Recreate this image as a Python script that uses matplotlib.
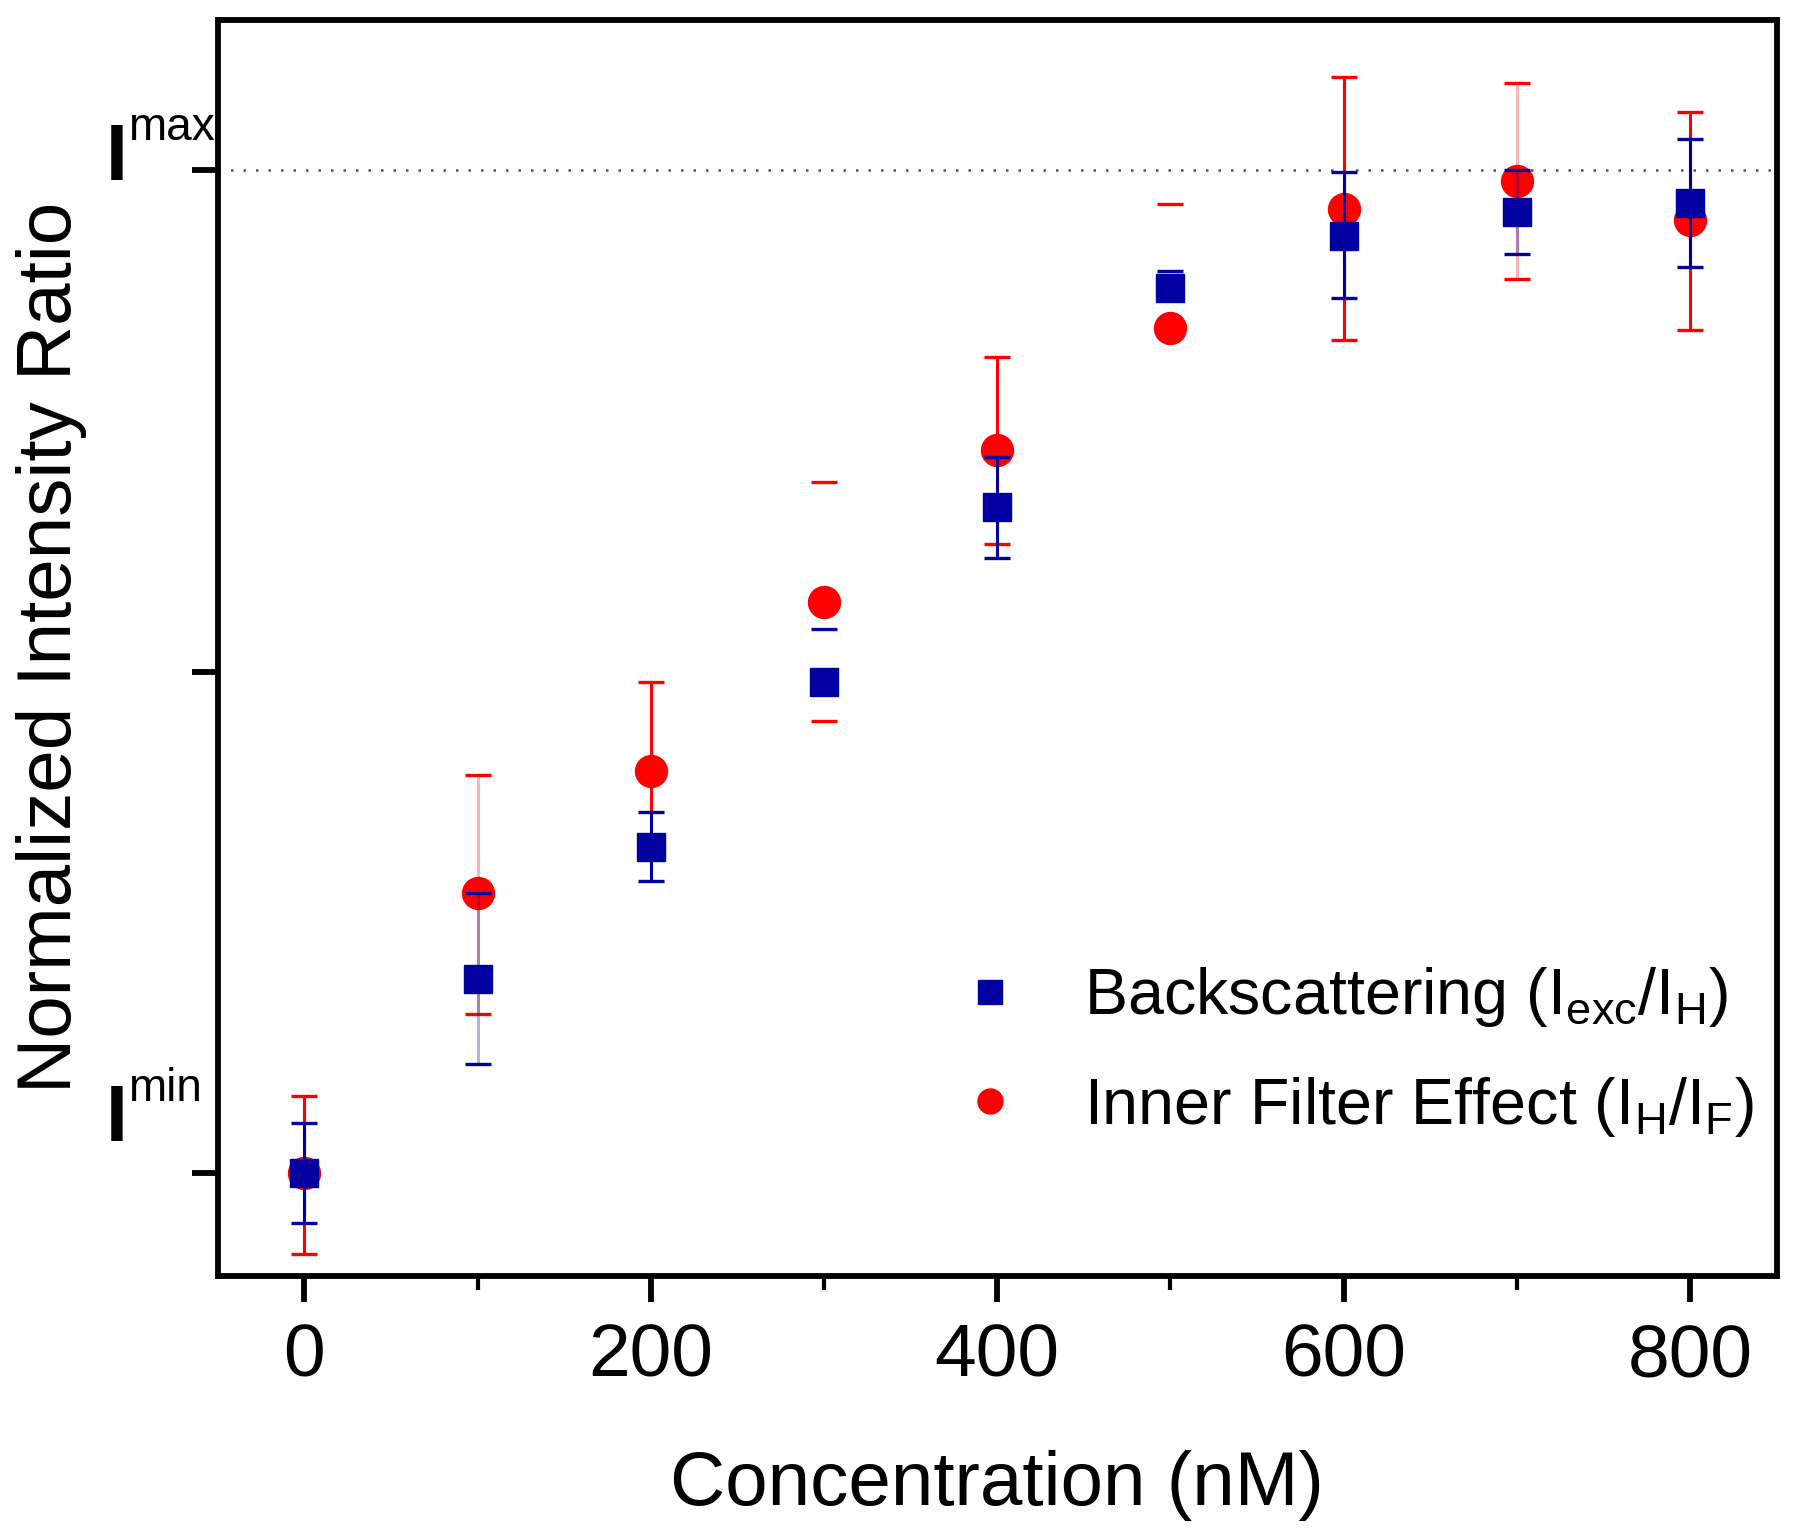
import numpy as np
import matplotlib.pyplot as plt
from matplotlib.colors import to_rgba
from matplotlib.transforms import ScaledTranslation

plt.rcParams['font.family'] = ['Liberation Sans', 'DejaVu Sans']
plt.rcParams['mathtext.fontset'] = 'custom'
plt.rcParams['mathtext.rm'] = 'Liberation Sans'
plt.rcParams['mathtext.it'] = 'Liberation Sans:italic'

# concentrations (nM)
conc = [0, 100, 200, 300, 400, 500, 600, 700, 800]

# backscattering ratio, normalized between Imin (0) and Imax (1)
back_vals = [0.0, 0.194, 0.325, 0.490, 0.664, 0.883, 0.935, 0.959, 0.967]
back_err_lo = [0.05, 0.085, 0.034, 0.0, 0.05, 0.0, 0.062, 0.042, 0.063]
back_err_hi = [0.05, 0.085, 0.035, 0.053, 0.05, 0.017, 0.063, 0.041, 0.064]

# inner filter effect ratio
ife_vals = [0.0, 0.279, 0.401, 0.570, 0.721, 0.843, 0.962, 0.989, 0.951]
ife_err_lo = [0.08, 0.12, 0.08, 0.119, 0.094, 0.0, 0.131, 0.097, 0.11]
ife_err_hi = [0.077, 0.118, 0.089, 0.119, 0.093, 0.123, 0.131, 0.098, 0.107]

ytick_pos = [0.0, 0.5, 1.0]
ytick_sup = ['min', '', 'max']

blue = '#0000a0'
red = '#ff0000'

fig = plt.figure(figsize=(18, 15.35), dpi=100)
ax = fig.add_axes([0.121, 0.169, 0.866, 0.818])

ax.axhline(1.0, color='#505060', linestyle=(0, (1, 4)), linewidth=1.8, zorder=1)

ife = ax.errorbar(conc, ife_vals, yerr=[ife_err_lo, ife_err_hi], fmt='o', color=red,
                  ms=23, ecolor=red, elinewidth=2.2, capsize=9.5, capthick=2.4, zorder=3)
back = ax.errorbar(conc, back_vals, yerr=[back_err_lo, back_err_hi], fmt='s', color=blue,
                   ms=20, ecolor=blue, elinewidth=2.2, capsize=9.5, capthick=2.4, zorder=4)

# some of the whiskers are faint or missing in the original figure
line_alpha = [1, 0.3, 1, 0, 1, 0, 1, 0.3, 1]
ife[2][0].set_color([to_rgba(red, a) for a in line_alpha])
back[2][0].set_color([to_rgba(blue, a) for a in line_alpha])

ax.set_xlim(-50, 850)
ax.set_ylim(-0.102, 1.15)
ax.set_xticks([0, 200, 400, 600, 800])
ax.set_xticks([100, 300, 500, 700], minor=True)
ax.set_yticks(ytick_pos)
ax.set_yticklabels([])

for s in ax.spines.values():
    s.set_linewidth(4.2)
ax.tick_params(axis='both', which='major', direction='out', length=19, width=4.2,
               labelsize=54)
ax.tick_params(axis='x', which='minor', direction='out', length=10, width=3)
ax.tick_params(axis='x', which='major', pad=15)

# I^max / I^min labels drawn as "I" plus a small superscript
ytrans = ax.get_yaxis_transform()
base_shift = [23, 0, -7]  # baseline offset from the tick (points)
for pos, sup, dy in zip(ytick_pos, ytick_sup, base_shift):
    if not sup:
        continue
    t_i = ytrans + ScaledTranslation(-81 / 72, dy / 72, fig.dpi_scale_trans)
    ax.text(0, pos, 'I', transform=t_i, fontsize=57, ha='left', va='baseline',
            fontweight='bold')
    t_s = ytrans + ScaledTranslation(-65 / 72, (dy + 29) / 72, fig.dpi_scale_trans)
    ax.text(0, pos, sup, transform=t_s, fontsize=33, ha='left', va='baseline')

ax.set_xlabel('Concentration (nM)', fontsize=55)
ax.xaxis.label.set_va('baseline')
ax.xaxis.set_label_coords(0.5, -0.183)
ax.set_ylabel('Normalized Intensity Ratio', fontsize=55)
ax.yaxis.label.set_va('baseline')
ax.yaxis.set_label_coords(-0.094, 0.5)

h_back, = ax.plot([], [], 's', color=blue, ms=17)
h_ife, = ax.plot([], [], 'o', color=red, ms=18)
ax.legend([h_back, h_ife],
          ['Backscattering (I$_\\mathregular{exc}$/I$_\\mathregular{H}$)',
           'Inner Filter Effect (I$_\\mathregular{H}$/I$_\\mathregular{F}$)'],
          loc='center left', bbox_to_anchor=(0.4747, 0.178), frameon=False,
          fontsize=46.5, handlelength=1.0, handletextpad=0.95, labelspacing=0.7,
          borderpad=0, borderaxespad=0)

fig.savefig('out.png', dpi=100)
